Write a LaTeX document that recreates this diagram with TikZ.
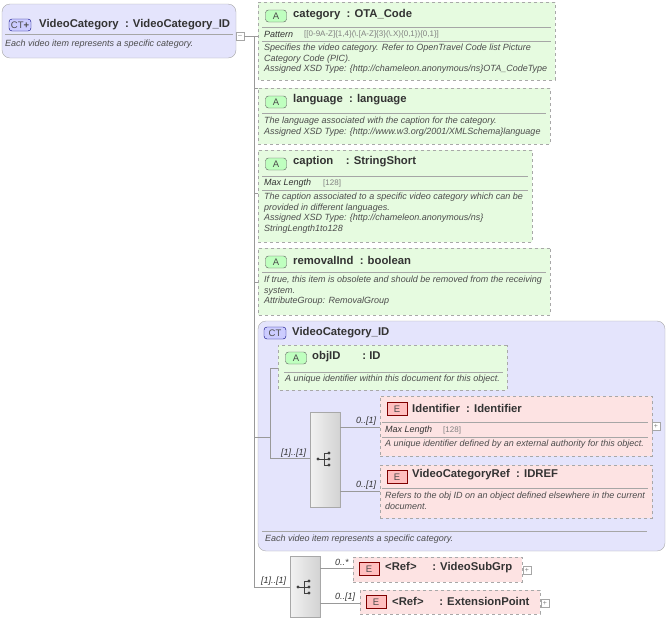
\documentclass[tikz,border=0pt]{standalone}
\usepackage{fontspec}
\setmainfont{Liberation Sans}
\usetikzlibrary{shapes.misc}
\definecolor{agreen}{HTML}{E6FBE0}
\definecolor{ered}{HTML}{FDE3E3}
\definecolor{ctblue}{HTML}{E4E4FC}
\definecolor{bordergray}{HTML}{A8A8A8}
\newcommand{\bx}[6]{\node[#6, minimum width={(#4-#2)*1pt}, minimum height={(#5-#3)*1pt}] (#1) at ({(#2+#4)/2},{(#3+#5)/2}) {};}
\tikzset{
 attr/.style={chamfered rectangle, chamfered rectangle xsep=6pt, chamfered rectangle ysep=6pt, chamfered rectangle corners={north west,south west}, draw=bordergray, dashed, fill=agreen, inner sep=0pt},
 elem/.style={rectangle, draw=bordergray, dashed, fill=ered, inner sep=0pt},
 ctbox/.style={rectangle, rounded corners=8pt, draw=bordergray, fill=ctblue, inner sep=0pt},
 seqbox/.style={rectangle, draw=bordergray, left color=white!90!gray, right color=gray!35, inner sep=0pt},
 ttl/.style={anchor=west, inner sep=0pt, font=\fontsize{11.3}{13}\selectfont\bfseries, text=black!80},
 dsc/.style={anchor=north west, inner sep=0pt, align=left, font=\fontsize{9}{10.6}\selectfont\itshape, text=black!70},
 lbl/.style={anchor=west, inner sep=0pt, font=\fontsize{9}{10}\selectfont\itshape, text=black!80},
 facet/.style={anchor=west, inner sep=0pt, font=\fontsize{8}{9}\selectfont, text=gray},
 sep/.style={draw=gray!70},
 conn/.style={draw=gray!80},
 badgeA/.style={draw=gray!70!black, fill=green!25, rounded corners=3pt, minimum width=21pt, minimum height=12pt, inner sep=0pt, font=\fontsize{9.5}{10}\selectfont, text=black!70},
 badgeE/.style={draw=red!50!black, fill=red!25, minimum width=20pt, minimum height=13pt, inner sep=0pt, font=\fontsize{9.5}{10}\selectfont, text=black!70},
 badgeCT/.style={draw=blue!50!black, fill=blue!20, rounded corners=3pt, minimum width=22pt, minimum height=12pt, inner sep=0pt, font=\fontsize{9.5}{10}\selectfont, text=black!70},
 pm/.style={draw=gray!70, fill=white, minimum size=8pt, inner sep=0pt, font=\fontsize{7}{7}\selectfont, text=gray},
}
\newcommand{\seqicon}[2]{%
 \fill[black!75] (#1-6,#2) circle (1.6);
 \draw[black!75, line width=0.8pt] (#1-6,#2) -- (#1,#2) (#1,#2-6) -- (#1,#2+6) (#1,#2-6) -- (#1+4,#2-6) (#1,#2) -- (#1+4,#2) (#1,#2+6) -- (#1+4,#2+6);
 \fill[black!75] (#1+5,#2-6) circle (1.6) (#1+5,#2) circle (1.6) (#1+5,#2+6) circle (1.6);}
\begin{document}
\begin{tikzpicture}[x=1pt,y=-1pt]
\useasboundingbox (0,0) rectangle (669,622);
% root
\bx{root}{2}{4}{236}{58}{ctbox}
\node[badgeCT] (rootb) at (20,25) {CT\textbf{+}};
\node[ttl] (roott) at (39,25) {VideoCategory\ \ : VideoCategory\_ID};
\draw[sep] (5,34) -- (233,34);
\node[dsc] (rootd) at (5,40) {Each video item represents a specific category.};
\node[pm] (rootm) at (240,36) {--};
\draw[conn] (rootm.east) -- (254,36) coordinate (top);
\coordinate (bot) at (254,587);
\draw[conn] (top) -- (bot);
% category
\bx{cat}{258}{2}{555}{80}{attr}
\node[badgeA] at (276,16) {A};
\node[ttl] at (293,15) {category\ \ : OTA\_Code};
\draw[sep] (262,27) -- (551,27);
\node[lbl] at (264,34) {Pattern};
\node[facet] at (304,34) {[[0-9A-Z]\{1,4\}(\textbackslash.[A-Z]\{3\}(\textbackslash.X)\{0,1\})\{0,1\}]};
\draw[sep] (262,41) -- (551,41);
\node[dsc] at (264,44) {Specifies the video category. Refer to OpenTravel Code list Picture\\Category Code (PIC).\\Assigned XSD Type: \{http://chameleon.anonymous/ns\}OTA\_CodeType};
\draw[conn] (254,36) -- (cat.west|-0,36);
% language
\bx{lang}{258}{88}{550}{144}{attr}
\node[badgeA] at (276,102) {A};
\node[ttl] at (293,100) {language\ \ : language};
\draw[sep] (262,113) -- (546,113);
\node[dsc] at (264,117) {The language associated with the caption for the category.\\Assigned XSD Type: \{http://www.w3.org/2001/XMLSchema\}language};
\draw[conn] (254,88) -- (lang.west|-0,88);
% caption
\bx{cap}{258}{150}{532}{242}{attr}
\node[badgeA] at (276,164) {A};
\node[ttl] at (293,162) {caption\ \ \ \ : StringShort};
\draw[sep] (262,176) -- (528,176);
\node[lbl] at (264,183) {Max Length};
\node[facet] at (323,183) {[128]};
\draw[sep] (262,190) -- (528,190);
\node[dsc] at (264,193) {The caption associated to a specific video category which can be\\provided in different languages.\\Assigned XSD Type: \{http://chameleon.anonymous/ns\}\\StringLength1to128};
\draw[conn] (254,193) -- (cap.west|-0,193);
% removalInd
\bx{rem}{258}{248}{550}{315}{attr}
\node[badgeA] at (276,262) {A};
\node[ttl] at (293,260) {removalInd\ \ : boolean};
\draw[sep] (262,272) -- (546,272);
\node[dsc] at (264,276) {If true, this item is obsolete and should be removed from the receiving\\system.\\AttributeGroup: RemovalGroup};
\draw[conn] (254,282) -- (rem.west|-0,282);
% CT VideoCategory_ID
\bx{ct}{258}{321}{665}{551}{ctbox}
\node[badgeCT] at (275,333) {CT};
\node[ttl] at (292,333) {VideoCategory\_ID};
\draw[conn] (254,437) -- (270,437);
\bx{obj}{278}{345}{507}{390}{attr}
\node[badgeA] at (296,358) {A};
\node[ttl] at (312,357) {objID\ \ \ \ \ \ \ : ID};
\draw[sep] (284,372) -- (503,372);
\node[dsc] at (285,375) {A unique identifier within this document for this object.};
\bx{seq1}{310}{412}{340}{507}{seqbox}
\seqicon{324}{459}
\draw[conn] (obj.west|-0,368) -- (270,368) -- (270,458) -- (seq1.west|-0,458);
\node[lbl] at (281,453) {[1]..[1]};
\bx{ident}{380}{396}{652}{456}{elem}
\node[badgeE] at (397,409) {E};
\node[ttl] at (412,408) {Identifier\ \ : Identifier};
\draw[sep] (382,422) -- (648,422);
\node[lbl] at (385,430) {Max Length};
\node[facet] at (443,430) {[128]};
\draw[sep] (382,437) -- (648,437);
\node[dsc] at (385,440) {A unique identifier defined by an external authority for this object.};
\node[pm] at (656,426) {+};
\draw[conn] (seq1.east|-0,427) -- (ident.west|-0,427);
\node[lbl] at (356,421) {0..[1]};
\bx{vcr}{380}{465}{652}{518}{elem}
\node[badgeE] at (397,477) {E};
\node[ttl] at (412,475) {VideoCategoryRef\ \ : IDREF};
\draw[sep] (382,488) -- (648,488);
\node[dsc] at (385,492) {Refers to the obj ID on an object defined elsewhere in the current\\document.};
\draw[conn] (seq1.east|-0,491) -- (vcr.west|-0,491);
\node[lbl] at (356,485) {0..[1]};
\draw[sep] (262,531) -- (647,531);
\node[dsc] at (265,535) {Each video item represents a specific category.};
% bottom sequence
\bx{seq2}{290}{556}{320}{617}{seqbox}
\seqicon{304}{587}
\draw[conn] (bot) -- (seq2.west|-0,587);
\node[lbl] at (261,581) {[1]..[1]};
\bx{vsg}{353}{557}{522}{582}{elem}
\node[badgeE] at (369,569) {E};
\node[ttl] at (385,568) {<Ref>\ \ \ \ \ : VideoSubGrp};
\node[pm] at (527,570) {+};
\draw[conn] (seq2.east|-0,568) -- (vsg.west|-0,568);
\node[lbl] at (335,562) {0..*};
\bx{ext}{360}{590}{540}{614}{elem}
\node[badgeE] at (376,602) {E};
\node[ttl] at (392,601) {<Ref>\ \ \ \ \ : ExtensionPoint};
\node[pm] at (545,603) {+};
\draw[conn] (seq2.east|-0,603) -- (ext.west|-0,603);
\node[lbl] at (335,597) {0..[1]};
\end{tikzpicture}
\end{document}
